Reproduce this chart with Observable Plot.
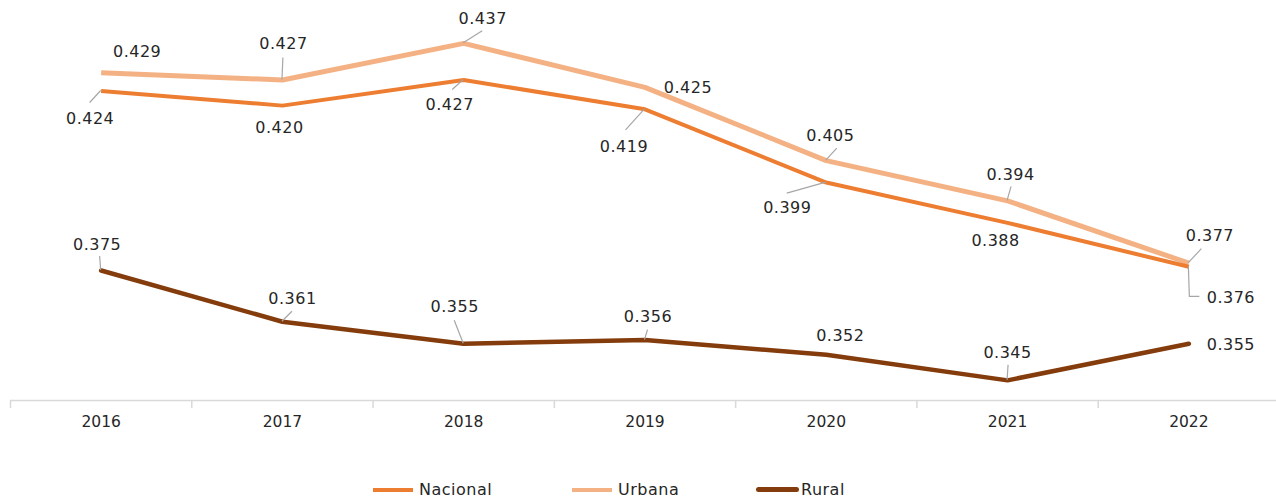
<!DOCTYPE html>
<html>
<head>
<meta charset="utf-8">
<script src="https://cdn.jsdelivr.net/npm/d3@7"></script>
<script src="https://cdn.jsdelivr.net/npm/@observablehq/plot@0.6"></script>
<style>
  body { margin: 0; background: #fff; font-family: "DejaVu Sans", sans-serif; }
  #chart svg { display: block; }
  .legend { display: flex; align-items: center; padding-left: 373px; padding-top: 40px; font-size: 16px; letter-spacing: 0.5px; color: #262626; }
  .item { display: flex; align-items: center; }
  .sw { width: 40px; height: 4px; margin-right: 6px; }
  .lbl { letter-spacing: 0.5px; }
</style>
</head>
<body>
<div id="chart"></div>
<div class="legend" id="legend"></div>
<script>
const years = [2016, 2017, 2018, 2019, 2020, 2021, 2022];
const nacional = [0.424, 0.420, 0.427, 0.419, 0.399, 0.388, 0.376];
const urbana   = [0.429, 0.427, 0.437, 0.425, 0.405, 0.394, 0.377];
const rural    = [0.375, 0.361, 0.355, 0.356, 0.352, 0.345, 0.355];
const seriesNames = ["Nacional", "Urbana", "Rural"];

const colors = {Nacional: "#ED7D31", Urbana: "#F4B183", Rural: "#843C0C"};
const widths = {Nacional: 4, Urbana: 5, Rural: 4.5};

// label layout: pixel offsets of label centre from the point, and leader paths
const labelOffsets = {
  Urbana:   [[36,-21],[1,-36],[19,-24],[43,1],[4,-25],[3,-26],[21,-27]],
  Nacional: [[-11,28],[-3,22],[-14,25],[-21,38],[-39,25],[-12,18],[42,31]],
  Rural:    [[-4,-26],[10,-23],[-9,-37],[3,-23],[14,-19],[0,-27],[42,1]]
};
const leaders = {
  Urbana:   [null, [[0,0],[1,-22]], [[0,0],[19,-12]], null, [[0,0],[11,-12]], [[0,0],[4,-14]], [[0,0],[13,-14]]],
  Nacional: [[[0,0],[-11,12]], null, [[0,0],[-11,10]], [[0,0],[-19,21]], [[0,0],[-39,11]], null, [[0,0],[1,30],[11,30]]],
  Rural:    [[[0,0],[-1,-14]], [[0,0],[10,-10]], [[0,0],[-9,-23]], [[0,0],[3,-10]], null, [[0,0],[1,-15]], null]
};

const valuesBy = {Nacional: nacional, Urbana: urbana, Rural: rural};
const data = seriesNames.flatMap(s => years.map((yr, i) => ({series: s, year: yr, value: valuesBy[s][i], i})));

const yMin = 0.3395, yMax = 0.4487;

const lineMarks = ["Urbana", "Nacional", "Rural"].map(s =>
  Plot.line(data.filter(d => d.series === s), {
    x: "year", y: "value", stroke: colors[s], strokeWidth: widths[s],
    strokeLinejoin: "miter", strokeLinecap: s === "Rural" ? "round" : "butt"
  })
);

const leaderMark = (index, scales) => {
  const g = d3.create("svg:g");
  for (const d of data) {
    const pts = leaders[d.series][d.i];
    if (!pts) continue;
    const px = scales.x(d.year), py = scales.y(d.value);
    g.append("path")
      .attr("d", d3.line()(pts.map(([dx, dy]) => [px + dx, py + dy])))
      .attr("fill", "none")
      .attr("stroke", "#a6a6a6")
      .attr("stroke-width", 1.2);
  }
  return g.node();
};

const textMarks = data.map(d => {
  const [dx, dy] = labelOffsets[d.series][d.i];
  return Plot.text([d], {
    x: "year", y: "value", text: t => t.value.toFixed(3),
    dx, dy, fill: "#262626", fontSize: 16, className: "lbl"
  });
});

const chart = Plot.plot({
  width: 1276,
  height: 440,
  marginTop: 0,
  marginBottom: 40,
  marginLeft: 10,
  marginRight: 0,
  style: {fontFamily: "DejaVu Sans, sans-serif", fontSize: "15.5px", background: "#fff"},
  x: {type: "linear", domain: [2015.5, 2022.5], range: [10, 1279], label: null},
  y: {domain: [yMin, yMax], axis: null},
  marks: [
    Plot.ruleY([yMin], {stroke: "#d9d9d9", strokeWidth: 1.5}),
    Plot.axisX(years.map(y => y - 0.5), {tickSize: 8, tickFormat: () => "", label: null, stroke: "#d9d9d9", strokeWidth: 1.5}),
    Plot.axisX(years, {tickSize: 0, tickPadding: 15, tickFormat: d => String(d), label: null, fill: "#262626", fontSize: 15.5}),
    ...lineMarks,
    leaderMark,
    ...textMarks
  ]
});
document.getElementById("chart").appendChild(chart);

const legend = document.getElementById("legend");
const itemWidths = {Nacional: 199, Urbana: 184, Rural: null};
for (const s of seriesNames) {
  const it = document.createElement("div");
  it.className = "item";
  if (itemWidths[s]) it.style.width = itemWidths[s] + "px";
  const sw = document.createElement("span");
  sw.className = "sw";
  sw.style.background = colors[s];
  if (s === "Rural") { sw.style.height = "5px"; sw.style.borderRadius = "3px"; sw.style.width = "43px"; sw.style.marginRight = "2px"; }
  const tx = document.createElement("span");
  tx.textContent = s;
  it.appendChild(sw); it.appendChild(tx);
  legend.appendChild(it);
}
</script>
</body>
</html>
